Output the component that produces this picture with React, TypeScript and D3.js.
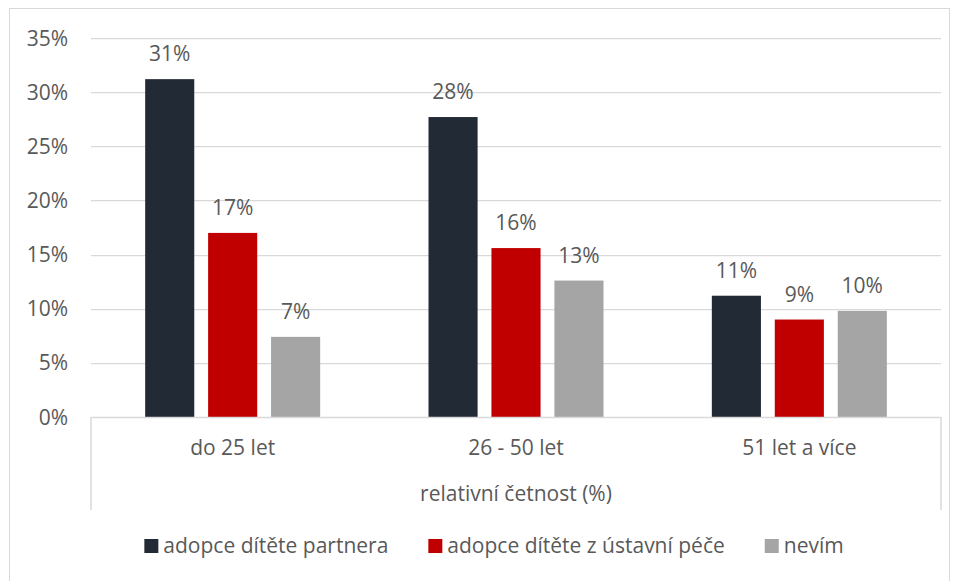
import { useEffect, useRef } from "react";
import * as d3 from "d3";

const categories = ["do 25 let", "26 - 50 let", "51 let a více"];
const seriesNames = ["adopce dítěte partnera", "adopce dítěte z ústavní péče", "nevím"];
const partnera = [31.2, 27.7, 11.2];
const ustavni = [17.0, 15.6, 9.0];
const nevim = [7.4, 12.6, 9.8];
const yTicks = [0, 5, 10, 15, 20, 25, 30, 35];
const axisTitle = "relativní četnost (%)";

const COLORS = ["#222a35", "#c00000", "#a5a5a5"];
const WIDTH = 958;
const HEIGHT = 581;
const PLOT = { left: 91, right: 941, top: 38, bottom: 417 };
const FONT = "'Open Sans', sans-serif";
const FONT_SIZE = 21;
const TEXT = "#595959";

export default function App() {
  const svgRef = useRef<SVGSVGElement>(null);

  useEffect(() => {
    if (!svgRef.current) return;
    const svg = d3.select(svgRef.current);
    svg.selectAll("*").remove();

    const series = [partnera, ustavni, nevim];

    // chart frame
    svg
      .append("rect")
      .attr("x", 9.5)
      .attr("y", 8.5)
      .attr("width", 940)
      .attr("height", 590)
      .attr("fill", "#fff")
      .attr("stroke", "#d9d9d9");

    const x = d3
      .scaleBand<string>()
      .domain(categories)
      .range([PLOT.left, PLOT.right])
      .paddingInner(0)
      .paddingOuter(0);

    const inner = d3
      .scaleBand<number>()
      .domain([0, 1, 2])
      .range([0, 175])
      .paddingInner(0.22);

    const y = d3.scaleLinear().domain([0, 35]).range([PLOT.bottom, PLOT.top]);

    // gridlines
    svg
      .append("g")
      .selectAll("line")
      .data(yTicks.filter((t) => t > 0))
      .join("line")
      .attr("x1", PLOT.left)
      .attr("x2", PLOT.right)
      .attr("y1", (d) => Math.round(y(d)) + 0.5)
      .attr("y2", (d) => Math.round(y(d)) + 0.5)
      .attr("stroke", "#d9d9d9")
      .attr("stroke-width", 1.25);

    // y tick labels
    svg
      .append("g")
      .selectAll("text")
      .data(yTicks)
      .join("text")
      .attr("x", 68)
      .attr("y", (d) => y(d))
      .attr("dy", "0.36em")
      .attr("text-anchor", "end")
      .attr("font-family", FONT)
      .attr("font-size", FONT_SIZE)
      .attr("fill", TEXT)
      .text((d) => `${d}%`);

    // bars
    const bars = svg.append("g");
    series.forEach((vals, si) => {
      bars
        .append("g")
        .selectAll("rect")
        .data(vals)
        .join("rect")
        .attr("x", (_, i) => x(categories[i])! + (x.bandwidth() - 175) / 2 + inner(si)!)
        .attr("y", (d) => y(d))
        .attr("width", inner.bandwidth())
        .attr("height", (d) => y(0) - y(d))
        .attr("fill", COLORS[si]);

      bars
        .append("g")
        .selectAll("text")
        .data(vals)
        .join("text")
        .attr(
          "x",
          (_, i) =>
            x(categories[i])! + (x.bandwidth() - 175) / 2 + inner(si)! + inner.bandwidth() / 2
        )
        .attr("y", (d) => y(d) - 18)
        .attr("text-anchor", "middle")
        .attr("font-family", FONT)
        .attr("font-size", FONT_SIZE)
        .attr("fill", TEXT)
        .text((d) => `${Math.round(d)}%`);
    });

    // category axis (multi-level style frame)
    const axis = svg.append("g").attr("stroke", "#d9d9d9").attr("stroke-width", 1.5);
    axis
      .append("line")
      .attr("x1", PLOT.left)
      .attr("x2", PLOT.right)
      .attr("y1", PLOT.bottom + 0.5)
      .attr("y2", PLOT.bottom + 0.5);
    [PLOT.left, PLOT.right].forEach((xx) => {
      axis
        .append("line")
        .attr("x1", xx)
        .attr("x2", xx)
        .attr("y1", PLOT.bottom)
        .attr("y2", 510);
    });

    svg
      .append("g")
      .selectAll("text")
      .data(categories)
      .join("text")
      .attr("x", (d) => x(d)! + x.bandwidth() / 2)
      .attr("y", 455)
      .attr("text-anchor", "middle")
      .attr("font-family", FONT)
      .attr("font-size", FONT_SIZE)
      .attr("fill", TEXT)
      .text((d) => d);

    svg
      .append("text")
      .attr("x", (PLOT.left + PLOT.right) / 2)
      .attr("y", 501)
      .attr("text-anchor", "middle")
      .attr("font-family", FONT)
      .attr("font-size", FONT_SIZE)
      .attr("fill", TEXT)
      .text(axisTitle);

    // legend, laid out from measured text widths
    const legend = svg.append("g");
    const items = seriesNames.map((name, i) => {
      const g = legend.append("g");
      g.append("rect")
        .attr("x", 0)
        .attr("y", 539)
        .attr("width", 14)
        .attr("height", 14)
        .attr("fill", COLORS[i]);
      const t = g
        .append("text")
        .attr("x", 19)
        .attr("y", 553)
        .attr("font-family", FONT)
        .attr("font-size", FONT_SIZE)
        .attr("fill", TEXT)
        .text(name);
      const w = 19 + (t.node()?.getComputedTextLength() || 0);
      return { g, w };
    });
    const gap = 40;
    const total = d3.sum(items, (d) => d.w) + gap * (items.length - 1);
    let cursor = 494 - total / 2;
    items.forEach((it) => {
      it.g.attr("transform", `translate(${cursor},0)`);
      cursor += it.w + gap;
    });
  }, []);

  return (
    <svg
      ref={svgRef}
      width={WIDTH}
      height={HEIGHT}
      style={{ position: "absolute", left: 0, top: 0, background: "#fff" }}
    />
  );
}
